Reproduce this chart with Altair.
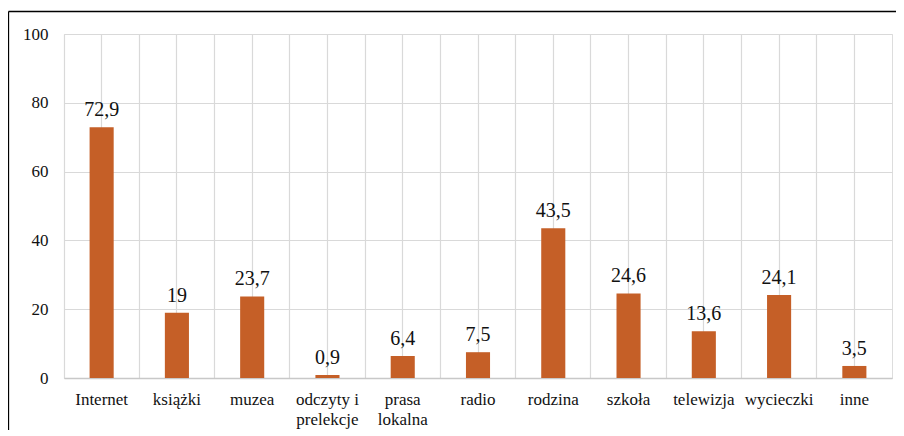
import altair as alt
import pandas as pd

categories = ["Internet", "książki", "muzea", "odczyty i prelekcje", "prasa lokalna",
              "radio", "rodzina", "szkoła", "telewizja", "wycieczki", "inne"]
values = [72.9, 19, 23.7, 0.9, 6.4, 7.5, 43.5, 24.6, 13.6, 24.1, 3.5]
y_ticks = [0, 20, 40, 60, 80, 100]

df = pd.DataFrame({"cat": categories, "val": values})

FONT = "'Liberation Serif', 'Times New Roman', serif"
BAR = "#C55F27"
GRID = "#D9D9D9"
TXT = "#111111"

label_expr = ("datum.label == 'odczyty i prelekcje' ? ['odczyty i', 'prelekcje'] : "
              "datum.label == 'prasa lokalna' ? ['prasa', 'lokalna'] : datum.label")

xscale = alt.Scale(domain=categories, paddingInner=0, paddingOuter=0)
yscale = alt.Scale(domain=[0, 100])

y_enc = alt.Y("val:Q", scale=yscale, title=None,
              axis=alt.Axis(values=y_ticks, labelFont=FONT, labelFontSize=17,
                            labelColor=TXT, labelPadding=16, ticks=False,
                            domain=False, grid=True, gridColor=GRID, gridWidth=1.2))

base = alt.Chart(df)

bars = base.mark_bar(color=BAR, width=alt.RelativeBandSize(0.32)).encode(
    x=alt.X("cat:N", sort=categories, scale=xscale, title=None,
            axis=alt.Axis(orient="bottom", labelAngle=0, labelExpr=label_expr,
                          labelFont=FONT, labelFontSize=17, labelColor=TXT,
                          labelPadding=13, labelLineHeight=20, ticks=False, domain=True,
                          domainColor="#C8C8C8", domainWidth=1.5,
                          grid=True, gridColor=GRID, gridWidth=1.2, bandPosition=0.5,
                          labelBaseline="top")),
    y=y_enc,
)

boundary_grid = base.mark_bar(opacity=0).encode(
    x=alt.X("cat:N", sort=categories, scale=xscale, title=None,
            axis=alt.Axis(orient="bottom", labels=False, ticks=False, domain=False,
                          grid=True, gridColor=GRID, gridWidth=1.2, bandPosition=0)),
    y=y_enc,
)

texts = base.transform_calculate(
    lab="replace(toString(datum.val), '.', ',')"
).mark_text(font=FONT, fontSize=20, color=TXT, baseline="alphabetic", dy=-11).encode(
    x=alt.X("cat:N", sort=categories, scale=xscale, axis=None),
    y=y_enc,
    text="lab:N",
)

frame_df = pd.DataFrame({"a": [0]})
frame_v = alt.Chart(frame_df).mark_rule(color="#000000", strokeWidth=1.3).encode(
    x=alt.value(-55.5), y=alt.value(-22.5), y2=alt.value(440)
)
frame_h = alt.Chart(frame_df).mark_rule(color="#000000", strokeWidth=1.3).encode(
    x=alt.value(-55.5), x2=alt.value(860), y=alt.value(-22.5)
)

chart = alt.layer(boundary_grid, bars, texts, frame_v, frame_h).resolve_axis(
    x="independent"
).properties(
    width=828, height=344,
    autosize=alt.AutoSizeParams(type="none"),
    padding={"left": 56, "top": 26, "right": 4, "bottom": 52},
).configure_view(stroke=GRID, strokeWidth=1.2).configure(background="white")

chart.save("out.html", embed_options={"renderer": "svg", "actions": False})
